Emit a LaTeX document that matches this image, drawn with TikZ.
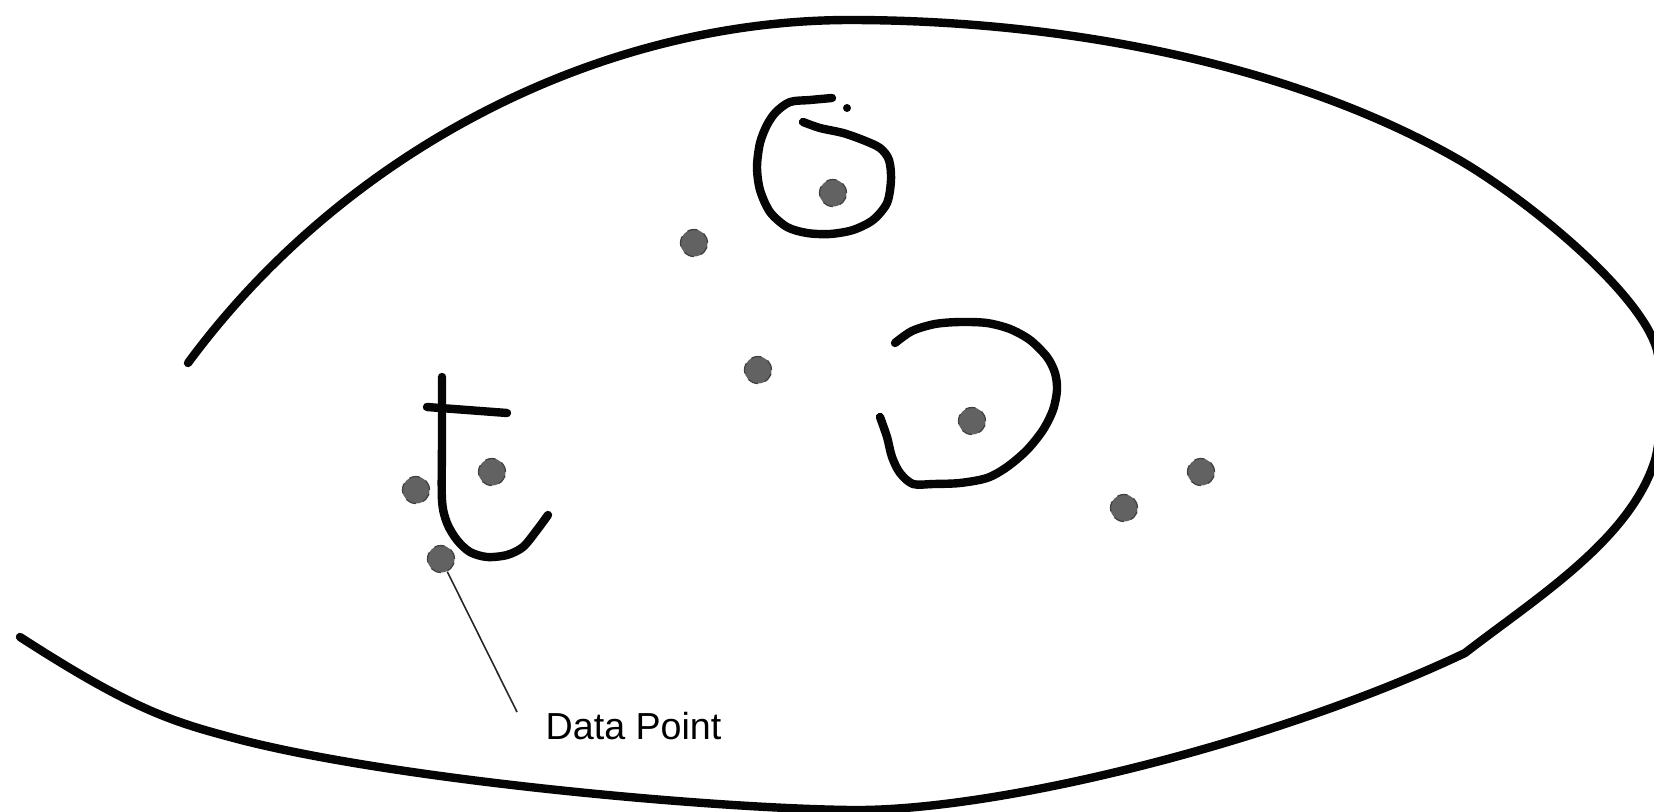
\documentclass[tikz,border=0pt]{standalone}
\usepackage{fontspec}
\newfontfamily\labelfont{Liberation Sans}
\definecolor{dotcol}{HTML}{626262}
\definecolor{inkcol}{HTML}{050505}

\tikzset{
  sketch/.style={draw=inkcol, line width=0.084cm, line cap=round, line join=round},
  datapt/.style={circle, fill=dotcol, draw=black!75, densely dashed,
    line width=0.35pt, minimum size=0.27cm, inner sep=0pt},
  leader/.style={draw=black!85, line width=0.45pt},
  ptlabel/.style={font=\labelfont\fontsize{10.7}{12}\selectfont, inner sep=0pt}
}

\begin{document}
\begin{tikzpicture}[x=0.01cm, y=-0.01cm]

% ---------- frame ----------
\useasboundingbox (0,0) rectangle (1654,812);

% ---------- outer boundary ----------
\draw[sketch] (188,363)
  .. controls (345,150) and (600,20) .. (850,20)
  .. controls (1050,20) and (1280,59) .. (1454,157)
  .. controls (1520,194) and (1640,290) .. (1657,350)
  .. controls (1663,375) and (1663,430) .. (1655,460)
  .. controls (1630,540) and (1536,598) .. (1465,653)
  .. controls (1282,740) and (1000,812) .. (850,810)
  .. controls (700,808) and (380,778) .. (230,737)
  .. controls (170,721) and (130,708) .. (20,637);

% ---------- sketched letters ----------
% top loop
\draw[sketch] plot[smooth, tension=0.5] coordinates {
  (832,98) (810,100) (790,102) (776,112) (767,125) (760,143) (757,167)
  (760,190) (770,212) (787,227) (807,233) (830,234) (853,230) (873,220)
  (887,203) (891,180) (889,160) (880,148) (863,140) (843,133) (820,128)
  (803,122)};
\fill[inkcol] (847,108) circle (4);

% t shape
\draw[sketch] plot[smooth, tension=0.5] coordinates {
  (442,377) (442,440) (442,500) (447,523) (457,540) (470,552) (487,557)
  (507,555) (523,547) (537,530) (548,515)};
\draw[sketch] (427,407) -- (507,413);

% open loop
\draw[sketch] plot[smooth, tension=0.5] coordinates {
  (895,343) (912,331) (935,324) (960,322) (987,323) (1010,329) (1030,340)
  (1047,357) (1055,373) (1057,390) (1053,410) (1043,430) (1027,450)
  (1007,467) (987,478) (960,483) (933,484) (913,484) (900,473) (892,457)
  (887,437) (880,417)};

% ---------- data points ----------
\foreach \name/\px/\py in {p1/833/193, p2/694/243, p3/758/370, p4/972/421,
    p5/1201/472, p6/1124/508, p7/492/472, p8/416/490, p9/441/559} {
  \node[datapt] (\name) at (\px,\py) {};
}

% ---------- label ----------
\node[ptlabel, anchor=west] (lbl) at (545,726) {Data Point};
\coordinate (leadend) at (517,712);
\draw[leader] (p9) -- (leadend);

\end{tikzpicture}
\end{document}
